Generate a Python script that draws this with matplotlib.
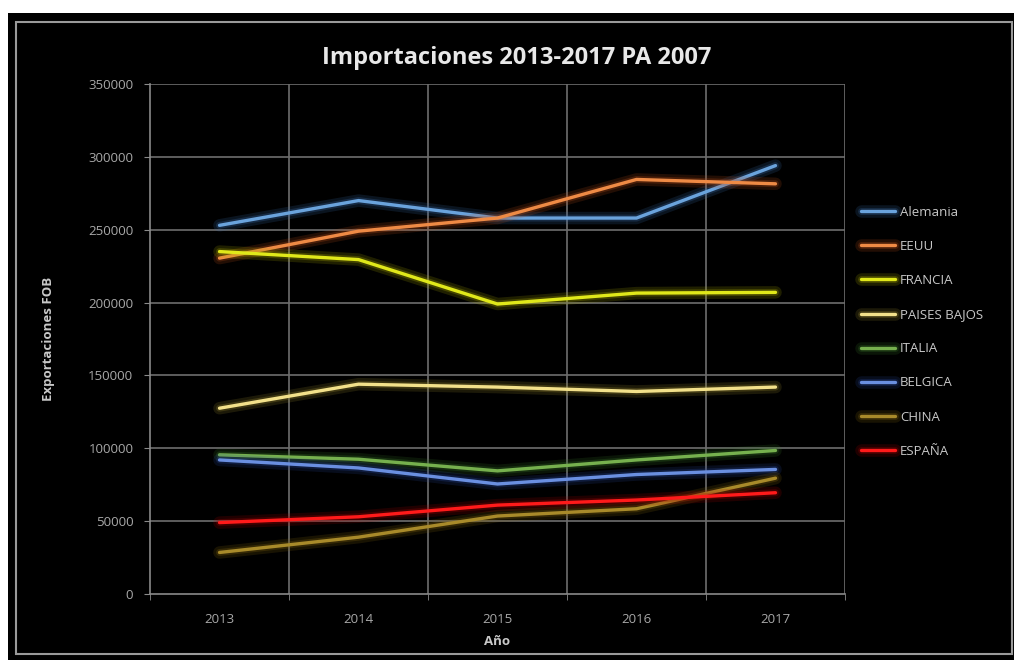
import matplotlib
matplotlib.use("Agg")
import matplotlib.pyplot as plt
import matplotlib.patheffects as pe
from matplotlib.patches import Rectangle

years = [2013, 2014, 2015, 2016, 2017]
series_names = ["Alemania", "EEUU", "FRANCIA", "PAISES BAJOS", "ITALIA", "BELGICA", "CHINA", "ESPAÑA"]
alemania = [253000, 270000, 258000, 258000, 294000]
eeuu = [230500, 249000, 258000, 284500, 281500]
francia = [235000, 229500, 199000, 206500, 207000]
paises_bajos = [127500, 144000, 142000, 139000, 142000]
italia = [95500, 92500, 84500, 92000, 98500]
belgica = [92000, 86500, 75500, 82000, 85500]
china = [28500, 39000, 53500, 58500, 79500]
espana = [49000, 53000, 61000, 64500, 69500]
values = [alemania, eeuu, francia, paises_bajos, italia, belgica, china, espana]
colors = ["#6aa3dc", "#ee8a45", "#e0e81a", "#f2e08a", "#76b04e", "#6a8fe0", "#a88a2a", "#ff1a1a"]
glow = ["#3a6fb0", "#c0501a", "#b0b000", "#a09030", "#3a7a2a", "#2a4aa0", "#8a6a10", "#b00000"]
yticks = [0, 50000, 100000, 150000, 200000, 250000, 300000, 350000]

plt.rcParams['font.family'] = ['Open Sans', 'DejaVu Sans']

fig = plt.figure(figsize=(10.14, 6.6), dpi=100)
fig.patch.set_facecolor("white")
# black panel and inner gray frame
fig.patches.append(Rectangle((8/1014, 0), 1 - 8/1014, 1 - 13/660, transform=fig.transFigure,
                             facecolor="black", edgecolor="none", zorder=-2))
fig.patches.append(Rectangle((16/1014, 6/660), 1 - 16/1014 - 2/1014, 1 - 22/660 - 6/660,
                             transform=fig.transFigure, facecolor="none",
                             edgecolor="#9a9a9a", linewidth=1.5, zorder=-1))

ax = fig.add_axes([150/1014, 1 - 594/660, (845-150)/1014, (594-84)/660])
ax.set_facecolor("black")
ax.set_xlim(2012.5, 2017.5)
ax.set_ylim(0, 350000)

for name, vals, c, g in zip(series_names, values, colors, glow):
    ax.plot(years, vals, color=c, linewidth=2.4, label=name, solid_capstyle="round",
            path_effects=[pe.Stroke(linewidth=9, foreground=g, alpha=0.18),
                          pe.Stroke(linewidth=5, foreground=g, alpha=0.25), pe.Normal()])

ax.set_yticks(yticks)
ax.set_yticklabels([str(v) for v in yticks])
ax.set_xticks(years)
ax.set_xticklabels([str(y) for y in years])
ax.set_xticks([2012.5 + i for i in range(6)], minor=True)
ax.grid(False)
for v in yticks[1:]:
    ax.axhline(v, color="#6e6e6e", linewidth=1.2, zorder=0)
for xv in [2013.5, 2014.5, 2015.5, 2016.5, 2017.5]:
    ax.axvline(xv, color="#6e6e6e", linewidth=1.2, zorder=0)

for s in ["top", "right"]:
    ax.spines[s].set_visible(False)
for s in ["left", "bottom"]:
    ax.spines[s].set_color("#8a8a8a")
    ax.spines[s].set_linewidth(1.2)
ax.tick_params(axis="y", colors="#8a8a8a", labelcolor="#a8a8a8", labelsize=9.5, length=4, pad=8)
ax.tick_params(axis="x", which="major", length=0, labelcolor="#a8a8a8", labelsize=9.5, pad=14)
ax.tick_params(axis="x", which="minor", length=4, colors="#8a8a8a")

ax.set_ylabel("Exportaciones FOB", color="#c8c8c8", fontsize=9.5, fontweight="bold", labelpad=24)
ax.set_xlabel("Año", color="#c8c8c8", fontsize=9.5, fontweight="bold", labelpad=6)

fig.text(517/1014, 1 - 58/660, "Importaciones 2013-2017 PA 2007", color="#e8e8e8",
         fontsize=17, fontweight="bold", ha="center", va="center")

leg = ax.legend(loc="upper left", bbox_to_anchor=(849/1014, 1 - 194/660), bbox_transform=fig.transFigure,
                frameon=False, fontsize=9.5, labelcolor="#c8c8c8", handlelength=2.6,
                labelspacing=1.6, handletextpad=0.35)

fig.savefig("out.png", dpi=100, facecolor=fig.get_facecolor())
